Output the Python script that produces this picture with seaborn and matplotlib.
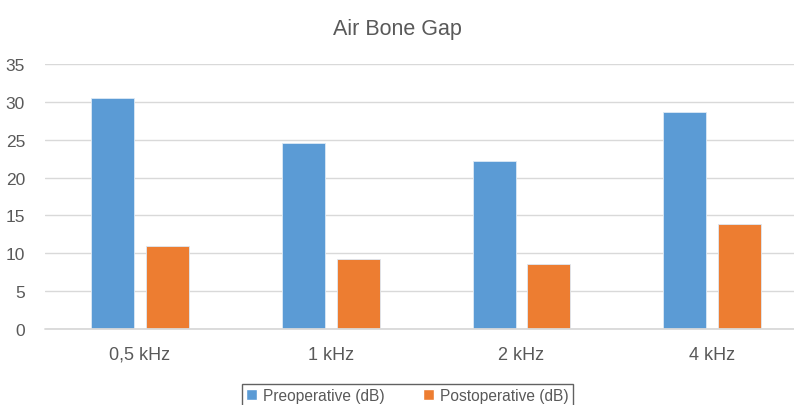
import matplotlib
matplotlib.use("Agg")
import matplotlib.pyplot as plt
import seaborn as sns
import pandas as pd
from matplotlib.patches import Patch

categories = ["0,5 kHz", "1 kHz", "2 kHz", "4 kHz"]
preoperative = [30.5, 24.6, 22.2, 28.6]
postoperative = [11.0, 9.3, 8.6, 13.9]
series_names = ["Preoperative (dB)", "Postoperative (dB)"]
title = "Air Bone Gap"
colors = ["#5B9BD5", "#ED7D31"]

df = pd.DataFrame({
    "cat": categories * 2,
    "val": preoperative + postoperative,
    "series": [series_names[0]] * 4 + [series_names[1]] * 4,
})

sns.set_style("white")
plt.rcParams["font.family"] = ["Liberation Sans", "DejaVu Sans"]
text_color = "#595959"

fig = plt.figure(figsize=(7.94, 4.06), dpi=100)
ax = fig.add_axes([44.5 / 794, 1 - 330 / 406, (807.7 - 44.5) / 794, (330 - 65) / 406])

sns.barplot(data=df, x="cat", y="val", hue="series", palette=colors,
            saturation=1, width=0.575, gap=0.215, ax=ax, legend=False,
            edgecolor="#DCE9F5", linewidth=0.6, zorder=3)

ax.set_ylim(0, 35)
ax.set_xlim(-0.5, 3.5)
ax.set_yticks(range(0, 36, 5))
ax.yaxis.grid(True, color="#D9D9D9", linewidth=1.0, zorder=0)
ax.set_axisbelow(True)
for s in ax.spines.values():
    s.set_visible(False)
ax.axhline(0, color="#D9D9D9", linewidth=1.3, zorder=4, clip_on=False)
ax.set_xlabel("")
ax.set_ylabel("")
ax.tick_params(axis="both", length=0, colors=text_color)
ax.tick_params(axis="y", pad=14, labelsize=12.5)
ax.tick_params(axis="x", pad=12, labelsize=13)
for lbl in ax.get_yticklabels() + ax.get_xticklabels():
    lbl.set_color(text_color)

fig.text(397 / 794, 1 - 29 / 406, title, ha="center", va="center",
         fontsize=15.5, color=text_color)

handles = [Patch(facecolor=c, edgecolor="white") for c in colors]
leg = fig.legend(handles, series_names, loc="upper center",
                 bbox_to_anchor=(407.4 / 794, 1 - 385 / 406), ncol=2,
                 frameon=True, fontsize=11.2, handlelength=0.7, handleheight=0.7,
                 handletextpad=0.4, columnspacing=2.45, borderpad=0.27,
                 fancybox=False, borderaxespad=0)
leg.get_frame().set_edgecolor("#3a3a3a")
leg.get_frame().set_linewidth(1.0)
for t in leg.get_texts():
    t.set_color(text_color)

fig.savefig("out.png", dpi=100)
